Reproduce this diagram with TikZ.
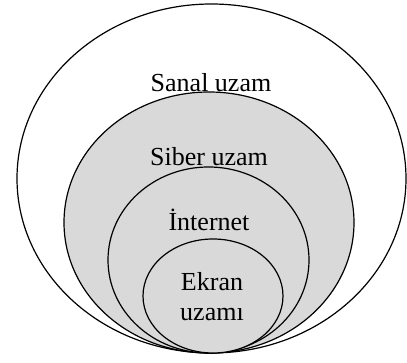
\documentclass[tikz,border=0pt]{standalone}
\usepackage{fontspec}
\setmainfont{Liberation Serif}
\usetikzlibrary{shapes.geometric}

\definecolor{zonegray}{HTML}{D9D9D9}
\tikzstyle{zone}=[ellipse,draw,line width=1.2pt,inner sep=0pt]
\tikzstyle{lbl}=[font=\fontsize{26}{30}\selectfont,align=center,inner sep=1pt]

\begin{document}
\begin{tikzpicture}[x=1pt,y=1pt]
        \useasboundingbox (0,0) rectangle (407,363);
        %
        \node[zone,fill=white,   minimum width=389pt,minimum height=349pt](sanal)    at (211.5,184.5){};
        \node[zone,fill=zonegray,minimum width=290pt,minimum height=261pt](siber)    at (209,140.5){};
        \node[zone,fill=zonegray,minimum width=201pt,minimum height=186pt](internet) at (208.5,103){};
        \node[zone,fill=zonegray,minimum width=140pt,minimum height=114pt](ekran)    at (213,67){};
        %
        \node[lbl](sanallbl)    at (211,280){Sanal uzam};
        \node[lbl](siberlbl)    at (209,206){Siber uzam};
        \node[lbl](internetlbl) at (209,143){İnternet};
        \node[lbl](ekranlbl)    at (212,66){Ekran\\uzamı};
      \end{tikzpicture}
\end{document}
